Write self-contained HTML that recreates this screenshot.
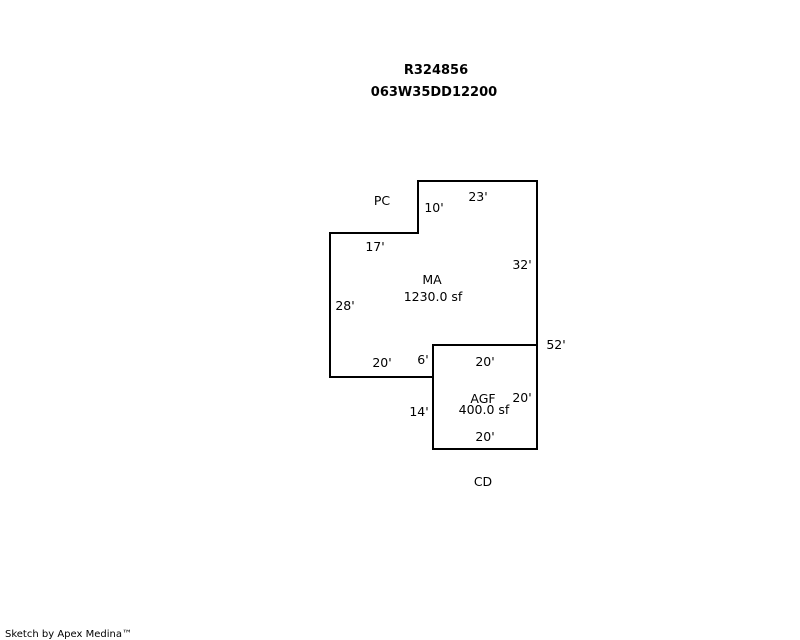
<!DOCTYPE html>
<html><head><meta charset="utf-8"><style>
html,body{margin:0;padding:0;background:#fff;width:800px;height:640px;overflow:hidden}
svg text{font-family:"DejaVu Sans","Liberation Sans",sans-serif;font-size:12.5px;fill:#000}
</style></head><body>
<svg width="800" height="640" xmlns="http://www.w3.org/2000/svg">
<text x="436" y="74" text-anchor="middle" font-weight="bold" style="font-size:13px">R324856</text>
<text x="434" y="96" text-anchor="middle" font-weight="bold" style="font-size:13px">063W35DD12200</text>
<g fill="none" stroke="#000" stroke-width="2">
<polyline points="433,377 330,377 330,233 418,233 418,181 537,181 537,345"/>
<rect x="433" y="345" width="104" height="104"/>
</g>
<text x="382" y="205" text-anchor="middle">PC</text>
<text x="434" y="212" text-anchor="middle">10'</text>
<text x="478" y="201" text-anchor="middle">23'</text>
<text x="375" y="251" text-anchor="middle">17'</text>
<text x="522" y="269" text-anchor="middle">32'</text>
<text x="432" y="284" text-anchor="middle">MA</text>
<text x="433" y="301" text-anchor="middle">1230.0 sf</text>
<text x="345" y="310" text-anchor="middle">28'</text>
<text x="556" y="349" text-anchor="middle">52'</text>
<text x="382" y="367" text-anchor="middle">20'</text>
<text x="423" y="364" text-anchor="middle">6'</text>
<text x="485" y="366" text-anchor="middle">20'</text>
<text x="483" y="403" text-anchor="middle">AGF</text>
<text x="522" y="402" text-anchor="middle">20'</text>
<text x="484" y="414" text-anchor="middle">400.0 sf</text>
<text x="419" y="416" text-anchor="middle">14'</text>
<text x="485" y="441" text-anchor="middle">20'</text>
<text x="483" y="486" text-anchor="middle">CD</text>
<text x="5" y="637" style="font-size:10px">Sketch by Apex Medina™</text>
</svg>
</body></html>
